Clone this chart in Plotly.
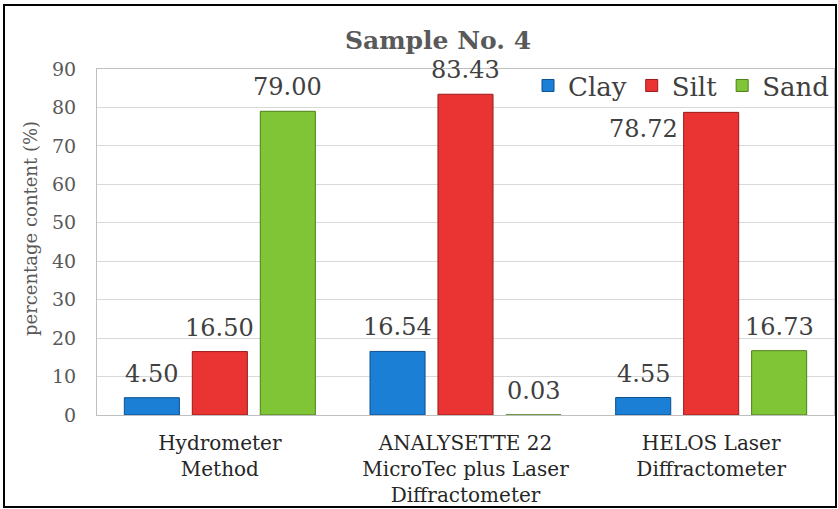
import plotly.graph_objects as go

categories = ["Hydrometer<br>Method",
              "ANALYSETTE 22<br>MicroTec plus Laser<br>Diffractometer",
              "HELOS Laser<br>Diffractometer"]
clay = [4.50, 16.54, 4.55]
silt = [16.50, 83.43, 78.72]
sand = [79.00, 0.03, 16.73]
y_ticks = [0, 10, 20, 30, 40, 50, 60, 70, 80, 90]

FONT = "DejaVu Serif"
label_font = dict(family=FONT, size=24, color="#404040")

W, H = 838, 509
ML, MR, MT, MB = 97, 4, 69, 94
PW, PH = W - ML - MR, H - MT - MB
BARGAP, GROUPGAP = 0.17, 0.19
slot = PW / len(categories) * (1 - BARGAP) / 3   # pixel width of one bar slot


def fmt(v):
    return f"{v:.2f}"


series = [("Clay", clay, "#1b7fd6", "#0d4f8f"),
          ("Silt", silt, "#ea3434", "#9a1a1a"),
          ("Sand", sand, "#80c536", "#4c7f1c")]

fig = go.Figure()
for i, (name, vals, col, lcol) in enumerate(series):
    fig.add_trace(go.Bar(name=name, x=categories, y=vals,
                         marker=dict(color=col, line=dict(color=lcol, width=1))))
    for j, v in enumerate(vals):
        if name == "Silt" and j == 2:
            # HELOS silt label placed left of its bar, below the top
            fig.add_annotation(x=categories[j], y=v, text=fmt(v), showarrow=False,
                               xshift=-slot, yshift=-17, yanchor="middle", font=label_font)
        else:
            fig.add_annotation(x=categories[j], y=v, text=fmt(v), showarrow=False,
                               xshift=(i - 1) * slot, yshift=8, yanchor="bottom",
                               font=label_font)

# y-axis title
fig.add_annotation(text="percentage content (%)", xref="paper", yref="paper",
                   x=(30 - ML) / PW, y=(H - MB - 229) / PH, textangle=-90,
                   showarrow=False, xanchor="center", yanchor="middle",
                   font=dict(family=FONT, size=18, color="#595959"))

# outer frame (pixel positions converted to paper coordinates)
fx0, fx1, fy0, fy1 = 4, 836, 5, 507
fig.add_shape(type="rect", xref="paper", yref="paper",
              x0=(fx0 - ML) / PW, x1=(fx1 - ML) / PW,
              y0=(H - MB - fy1) / PH, y1=(H - MB - fy0) / PH,
              line=dict(color="black", width=2))

fig.update_layout(
    width=W, height=H,
    margin=dict(l=ML, r=MR, t=MT, b=MB, autoexpand=False),
    paper_bgcolor="white", plot_bgcolor="white",
    barmode="group", bargap=BARGAP, bargroupgap=GROUPGAP,
    font=dict(family=FONT, color="#595959"),
    title=dict(text="<b>Sample No. 4</b>", x=438 / W, xanchor="center", xref="container",
               y=1 - 40 / H, yanchor="middle", yref="container",
               font=dict(family=FONT, size=25, color="#595959")),
    legend=dict(orientation="h", x=1.0, xanchor="right", y=1.02, yanchor="top",
                bgcolor="rgba(0,0,0,0)", font=dict(family=FONT, size=26, color="#404040"),
                itemwidth=30, tracegroupgap=0),
    showlegend=True,
)
fig.update_xaxes(showline=True, linecolor="#bfbfbf", linewidth=1, mirror=True,
                 tickfont=dict(family=FONT, size=20, color="#262626"),
                 ticks="", showgrid=False, ticklabelstandoff=10)
fig.update_yaxes(range=[0, 90], tickvals=y_ticks, showline=True, linecolor="#bfbfbf",
                 linewidth=1, mirror=True, gridcolor="#d9d9d9", gridwidth=1,
                 tickfont=dict(family=FONT, size=19, color="#595959"),
                 ticks="", ticklen=0, ticklabelstandoff=16,
                 zeroline=False)

fig.write_html("out.html", config={"displayModeBar": False},
               post_script="document.body.style.margin='0';")
